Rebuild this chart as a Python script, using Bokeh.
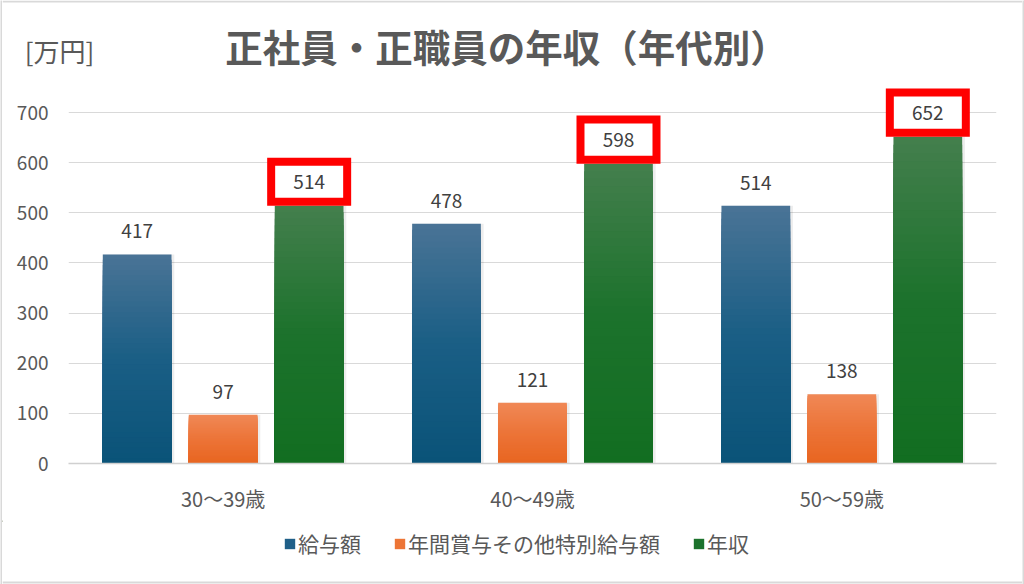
from bokeh.plotting import figure
from bokeh.layouts import column, row
from bokeh.models import (ColumnDataSource, FactorRange, Range1d, Legend,
                          LegendItem, FixedTicker)
from bokeh.transform import dodge
from bokeh.core.properties import value
from bokeh.embed import file_html
from bokeh.resources import INLINE

# ---- data ----
categories = ["30〜39歳", "40〜49歳", "50〜59歳"]
salary = [417, 478, 514]
bonus = [97, 121, 138]
annual = [514, 598, 652]
series_names = ["給与額", "年間賞与その他特別給与額", "年収"]
y_ticks = [0, 100, 200, 300, 400, 500, 600, 700]
title_text = "正社員・正職員の年収（年代別）"
unit_text = "[万円]"

FONT = "Noto Sans CJK JP"
TXT = "#595959"
BORDER = "#d9d9d9"
W = 1020          # inner width (2px border strips on each side)
TOTAL_H = 584
HEAD_H = 82
MAIN_H = 438
FOOT_H = 64


def blank(w, h, bg="white"):
    f = figure(width=w, height=h, x_range=Range1d(0, w), y_range=Range1d(h, 0),
               output_backend="svg", toolbar_location=None, min_border=0,
               min_border_left=0, min_border_right=0, min_border_top=0,
               min_border_bottom=0, frame_align=False)
    f.axis.visible = False
    f.grid.visible = False
    f.outline_line_color = None
    f.background_fill_color = bg
    f.border_fill_color = bg
    return f

# ---- header (title + unit) ----
head = blank(W, HEAD_H)
head.text(x=[504], y=[45], text=[title_text], text_align="center", text_baseline="middle",
          text_font=value(FONT), text_font_size="37.5px", text_font_style="bold",
          text_color=TXT)
head.text(x=[57], y=[50], text=[unit_text], text_align="center", text_baseline="middle",
          text_font=value(FONT), text_font_size="26px", text_color=TXT)
head.segment(x0=[0], y0=[1], x1=[W], y1=[1], line_color=BORDER, line_width=2)

# ---- main chart ----
p = figure(x_range=FactorRange(*categories), y_range=Range1d(0, 760),
           width=W, height=MAIN_H, output_backend="svg", toolbar_location=None,
           min_border_left=66, min_border_right=26, min_border_top=0,
           min_border_bottom=57, frame_align=False)
p.outline_line_color = None
p.background_fill_color = "white"
p.border_fill_color = "white"

grad = {
    0: ((74, 116, 150), (26, 94, 133), (10, 83, 120)),
    1: ((240, 136, 86), (236, 116, 56), (232, 101, 32)),
    2: ((68, 127, 77), (28, 114, 44), (18, 110, 33)),
}
legend_cols = ["#1f5f88", "#ed7535", "#1c722c"]

def col_at(stops, t):
    top, mid, bot = stops
    if t < 0.5:
        a, b, f = top, mid, t / 0.5
    else:
        a, b, f = mid, bot, (t - 0.5) / 0.5
    c = [int(round(a[i] + (b[i] - a[i]) * f)) for i in range(3)]
    return "#%02x%02x%02x" % tuple(c)

N = 40
offsets = [-0.278, 0.0, 0.278]
series = [salary, bonus, annual]
bar_w = 0.222

for si, vals in enumerate(series):
    sh = ColumnDataSource(dict(cat=categories, top=vals))
    p.vbar(x=dodge("cat", offsets[si] + 0.004, range=p.x_range), top="top", bottom=0,
           width=bar_w + 0.01, fill_color="#000000", fill_alpha=0.07, line_color=None,
           source=sh)
    xs, tops, cols = [], [], []
    for k in range(N - 1, -1, -1):
        t = 1 - (k + 0.5) / N
        for ci, cat in enumerate(categories):
            xs.append(cat)
            tops.append(vals[ci] * (k + 1) / N)
            cols.append(col_at(grad[si], t))
    src = ColumnDataSource(dict(cat=xs, top=tops, color=cols))
    p.vbar(x=dodge("cat", offsets[si], range=p.x_range), top="top", bottom=0,
           width=bar_w, fill_color="color", line_color=None, source=src)

for si in (0, 1):
    vals = series[si]
    src = ColumnDataSource(dict(cat=categories, v=vals, t=[str(v) for v in vals]))
    p.text(x=dodge("cat", offsets[si], range=p.x_range), y="v", text="t",
           source=src, text_align="center", text_baseline="middle", y_offset=-23,
           text_font=value(FONT), text_font_size="19px", text_color="#404040")

box_src = ColumnDataSource(dict(cat=categories, v=annual, t=[str(v) for v in annual],
                                yc=[v + 48 for v in annual]))
p.rect(x=dodge("cat", offsets[2], range=p.x_range), y="yc", width=76, height=80,
       width_units="screen", height_units="data", fill_color="white",
       line_color="#ff0000", line_width=8, line_join="miter", source=box_src)
p.text(x=dodge("cat", offsets[2], range=p.x_range), y="yc", text="t",
       source=box_src, text_align="center", text_baseline="middle",
       text_font=value(FONT), text_font_size="19px", text_color="#404040")

p.yaxis.ticker = FixedTicker(ticks=y_ticks)
p.yaxis.axis_line_color = None
p.yaxis.major_tick_line_color = None
p.yaxis.minor_tick_line_color = None
p.yaxis.major_tick_out = 0
p.yaxis.major_label_standoff = 20
p.yaxis.major_label_text_font = FONT
p.yaxis.major_label_text_font_size = "19px"
p.yaxis.major_label_text_color = TXT

p.xaxis.axis_line_color = "#d0d0d0"
p.xaxis.axis_line_width = 1.5
p.xaxis.major_tick_line_color = None
p.xaxis.minor_tick_line_color = None
p.xaxis.major_tick_out = 0
p.xaxis.major_label_standoff = 20
p.xaxis.major_label_text_font = FONT
p.xaxis.major_label_text_font_size = "20px"
p.xaxis.major_label_text_color = TXT

p.xgrid.grid_line_color = None
p.ygrid.grid_line_color = "#d9d9d9"
p.ygrid.grid_line_width = 1.2

# ---- footer (legend) ----
foot = blank(W, FOOT_H)
items = []
for si in range(3):
    # swatch-only renderer, placed outside the visible range
    r = foot.vbar(x=[-100], top=[1], width=1, fill_color=legend_cols[si], line_color=None)
    items.append(LegendItem(label=series_names[si], renderers=[r]))
legend = Legend(items=items, orientation="horizontal", location=(281, 26),
                glyph_width=13, glyph_height=13, label_standoff=2, spacing=32,
                padding=0, margin=0, border_line_color=None,
                background_fill_alpha=0,
                label_text_font=FONT, label_text_font_size="21px",
                label_text_color=TXT, label_height=22)
foot.add_layout(legend, "center")
foot.segment(x0=[0], y0=[FOOT_H - 2], x1=[W], y1=[FOOT_H - 2],
             line_color=BORDER, line_width=2)

# side border strips
left_strip = blank(2, TOTAL_H, bg=BORDER)
right_strip = blank(2, TOTAL_H, bg=BORDER)

layout = row(left_strip, column(head, p, foot, spacing=0), right_strip, spacing=0)

open("out.html", "w").write(file_html(layout, INLINE))
